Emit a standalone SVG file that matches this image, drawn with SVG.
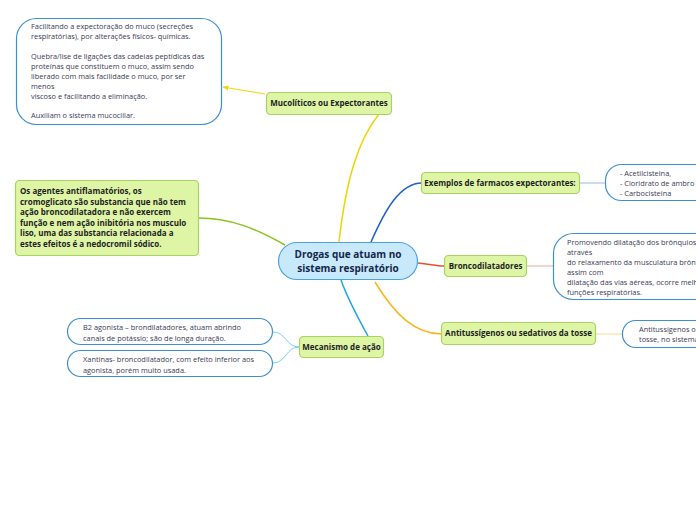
<svg xmlns="http://www.w3.org/2000/svg" width="696" height="520" viewBox="0 0 696 520">
<defs>
<style>
.note{fill:#fff;stroke:#3d8fd1;stroke-width:1.2}
.topic{fill:#def5a6;stroke:#a8d363;stroke-width:1.2}
.nt{font-family:"Open Sans","Noto Sans",sans-serif;font-size:7.4px;fill:#3a3a55}
.tt{font-family:"Open Sans","Noto Sans",sans-serif;font-size:8px;font-weight:bold;fill:#1e1e1e}
.ct{font-family:"Open Sans","Noto Sans",sans-serif;font-size:10px;font-weight:bold;fill:#14284a}
.c{fill:none;stroke-width:1.5}
</style>
<marker id="ah" viewBox="0 0 10 10" refX="9" refY="5" markerWidth="6" markerHeight="6" orient="auto"><path d="M0,1 L10,5 L0,9 z" fill="#f0d400"/></marker>
</defs>
<rect width="696" height="520" fill="#fff"/>
<g id="connectors">
<path class="c" d="M339,242 C346,180 358,140 379,114" stroke="#f0d400"/>
<path d="M265,94 L223,87" stroke="#f0d400" stroke-width="1" fill="none" marker-end="url(#ah)"/>
<path class="c" d="M285,245 C255,228 230,218 198,218" stroke="#8cc21c"/>
<path class="c" d="M371,242 C385,210 400,183 422,183" stroke="#1e5fcf"/>
<path class="c" d="M418,263 C430,264 436,266 444,266" stroke="#e8502a"/>
<path class="c" d="M375,282 C395,315 415,334 442,334" stroke="#fbb41a"/>
<path class="c" d="M341,280 C348,300 358,318 368,336" stroke="#1aa7ec"/>
<path d="M579,183 L605,183" stroke="#a9c6ee" stroke-width="1.2" fill="none"/>
<path d="M527,266 L553,266" stroke="#f5b4a5" stroke-width="1.2" fill="none"/>
<path d="M596,334 L622,334" stroke="#fde09a" stroke-width="1.2" fill="none"/>
<path d="M299,347 C286,347 286,332 273,332" stroke="#7fcdf0" stroke-width="1" fill="none"/>
<path d="M299,347 C286,347 286,363 273,363" stroke="#7fcdf0" stroke-width="1" fill="none"/>
</g>
<g id="center">
<rect x="278.5" y="242.5" width="139" height="37" rx="18.5" fill="#c8e9fb" stroke="#4aa3df" stroke-width="1.2"/>
<text class="ct" x="348" y="258" text-anchor="middle">Drogas que atuam no</text>
<text class="ct" x="348" y="272" text-anchor="middle">sistema respiratório</text>
</g>
<g id="mucoliticos">
<rect class="topic" x="266.5" y="92.5" width="125" height="22" rx="4"/>
<text class="tt" x="329" y="106" text-anchor="middle">Mucolíticos ou Expectorantes</text>
</g>
<g id="mucoliticos-note">
<rect class="note" x="16.5" y="18.5" width="205" height="106" rx="20"/>
<text class="nt" x="31" y="29">Facilitando a expectoração do muco (secreções</text>
<text class="nt" x="31" y="39">respiratórias), por alterações físicos- químicas.</text>
<text class="nt" x="31" y="59">Quebra/lise de ligações das cadeias peptídicas das</text>
<text class="nt" x="31" y="69">proteínas que constituem o muco, assim sendo</text>
<text class="nt" x="31" y="79">liberado com mais facilidade o muco, por ser</text>
<text class="nt" x="31" y="89">menos</text>
<text class="nt" x="31" y="99">viscoso e facilitando a eliminação.</text>
<text class="nt" x="31" y="118">Auxiliam o sistema mucociliar.</text>
</g>
<g id="antiinflamatorios">
<rect class="topic" x="15.5" y="180.5" width="183" height="75" rx="4"/>
<text class="tt" x="20" y="194">Os agentes antiflamatórios, os</text>
<text class="tt" x="20" y="204.5">cromoglicato são substancia que não tem</text>
<text class="tt" x="20" y="215">ação broncodilatadora e não exercem</text>
<text class="tt" x="20" y="225.5">função e nem ação inibitória nos musculo</text>
<text class="tt" x="20" y="236">liso, uma das substancia relacionada a</text>
<text class="tt" x="20" y="246.5">estes efeitos é a nedocromil sódico.</text>
</g>
<g id="exemplos">
<rect class="topic" x="421.5" y="172.5" width="158" height="21" rx="4"/>
<text class="tt" x="500" y="186" text-anchor="middle">Exemplos de farmacos expectorantes:</text>
</g>
<g id="exemplos-note">
<rect class="note" x="605.5" y="164.5" width="120" height="36" rx="16"/>
<text class="nt" x="620" y="176">- Acetilcisteina,</text>
<text class="nt" x="620" y="186">- Cloridrato de ambro</text>
<text class="nt" x="620" y="196">- Carbocisteina</text>
</g>
<g id="broncodilatadores">
<rect class="topic" x="444.5" y="255.5" width="82" height="21" rx="4"/>
<text class="tt" x="485.5" y="269" text-anchor="middle">Broncodilatadores</text>
</g>
<g id="broncodilatadores-note">
<rect class="note" x="553.5" y="233.5" width="170" height="66" rx="20"/>
<text class="nt" x="567" y="245">Promovendo dilatação dos brônquios</text>
<text class="nt" x="567" y="255">através</text>
<text class="nt" x="567" y="265">do relaxamento da musculatura brôn</text>
<text class="nt" x="567" y="275">assim com</text>
<text class="nt" x="567" y="285">dilatação das vias aéreas, ocorre melh</text>
<text class="nt" x="567" y="295">funções respiratórias.</text>
</g>
<g id="antitussigenos">
<rect class="topic" x="441.5" y="322.5" width="154" height="22" rx="4"/>
<text class="tt" x="518.5" y="336" text-anchor="middle">Antitussígenos ou sedativos da tosse</text>
</g>
<g id="antitussigenos-note">
<rect class="note" x="622.5" y="320.5" width="110" height="27" rx="13"/>
<text class="nt" x="639" y="332">Antitussígenos o</text>
<text class="nt" x="639" y="342">tosse, no sistema</text>
</g>
<g id="mecanismo">
<rect class="topic" x="299.5" y="336.5" width="84" height="21" rx="4"/>
<text class="tt" x="341.5" y="350" text-anchor="middle">Mecanismo de ação</text>
</g>
<g id="b2">
<rect class="note" x="67.5" y="318.5" width="205" height="26" rx="13"/>
<text class="nt" x="83" y="330">B2 agonista – brondilatadores, atuam abrindo</text>
<text class="nt" x="83" y="341">canais de potássio; são de longa duração.</text>
</g>
<g id="xantinas">
<rect class="note" x="67.5" y="350.5" width="205" height="26" rx="13"/>
<text class="nt" x="83" y="362">Xantinas- broncodilatador, com efeito inferior aos</text>
<text class="nt" x="83" y="373">agonista, porém muito usada.</text>
</g>
</svg>
